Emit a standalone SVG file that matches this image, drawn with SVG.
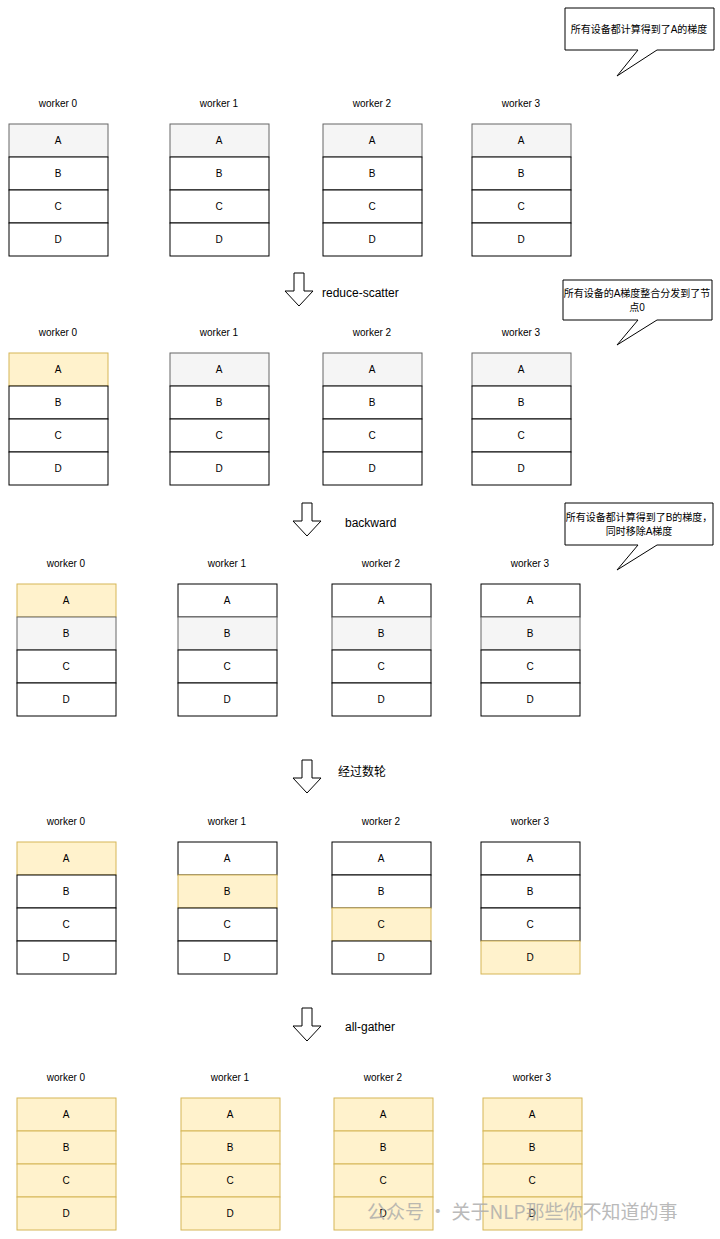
<svg xmlns="http://www.w3.org/2000/svg" width="720" height="1239" viewBox="0 0 720 1239">
<style>
text{font-family:"Liberation Sans",Arial,"Noto Sans CJK SC",sans-serif;font-size:10px;fill:#000;text-anchor:middle;dominant-baseline:central}
.w{fill:#fff;stroke:#000;stroke-width:1}
.g{fill:#f5f5f5;stroke:#666;stroke-width:1}
.y{fill:#fff2cc;stroke:#d6b656;stroke-width:1}
.arr{fill:#fff;stroke:#000;stroke-width:1}
.lbl{font-size:12px;text-anchor:start}
.call{fill:#fff;stroke:#000;stroke-width:1}
.wm{font-family:"Noto Sans CJK SC",sans-serif;font-size:19px;fill:#aaa;text-anchor:start;opacity:0.8}
</style>
<rect width="720" height="1239" fill="#fff"/>
<defs>
<g id="stk">
</g>
</defs>
<g id="connectors">
<path class="arr" d="M294,273h10v18h9l-14,15l-14,-15h9z"/>
<text class="lbl" x="322" y="293">reduce-scatter</text>
<path class="arr" d="M302,503h10v18h9l-14,15l-14,-15h9z"/>
<text class="lbl" x="345" y="523">backward</text>
<path class="arr" d="M302,760h10v18h9l-14,15l-14,-15h9z"/>
<text class="lbl" x="338" y="772">经过数轮</text>
<path class="arr" d="M302,1008h10v18h9l-14,15l-14,-15h9z"/>
<text class="lbl" x="345" y="1027">all-gather</text>
</g>
<g id="callout1">
<path class="call" d="M565,8H714V50H657L617,76L638,50H565Z"/>
<text x="639" y="29">所有设备都计算得到了A的梯度</text>
</g>
<g id="callout2">
<path class="call" d="M563,280H712V320H657L617,345L638,320H563Z"/>
<text x="637" y="293">所有设备的A梯度整合分发到了节</text>
<text x="637" y="307">点0</text>
</g>
<g id="callout3">
<path class="call" d="M565,503H713V545H657L617,570L638,545H565Z"/>
<text x="639" y="517">所有设备都计算得到了B的梯度，</text>
<text x="639" y="531">同时移除A梯度</text>
</g>
<!-- Section 1 -->
<g id="s1w0"><text x="58" y="103">worker 0</text><rect class="g" x="9" y="124" width="99" height="33"/><rect class="w" x="9" y="157" width="99" height="33"/><rect class="w" x="9" y="190" width="99" height="33"/><rect class="w" x="9" y="223" width="99" height="33"/><text x="58" y="140">A</text><text x="58" y="173">B</text><text x="58" y="206">C</text><text x="58" y="239">D</text></g>
<g id="s1w1"><text x="219" y="103">worker 1</text><rect class="g" x="170" y="124" width="99" height="33"/><rect class="w" x="170" y="157" width="99" height="33"/><rect class="w" x="170" y="190" width="99" height="33"/><rect class="w" x="170" y="223" width="99" height="33"/><text x="219" y="140">A</text><text x="219" y="173">B</text><text x="219" y="206">C</text><text x="219" y="239">D</text></g>
<g id="s1w2"><text x="372" y="103">worker 2</text><rect class="g" x="323" y="124" width="99" height="33"/><rect class="w" x="323" y="157" width="99" height="33"/><rect class="w" x="323" y="190" width="99" height="33"/><rect class="w" x="323" y="223" width="99" height="33"/><text x="372" y="140">A</text><text x="372" y="173">B</text><text x="372" y="206">C</text><text x="372" y="239">D</text></g>
<g id="s1w3"><text x="521" y="103">worker 3</text><rect class="g" x="472" y="124" width="99" height="33"/><rect class="w" x="472" y="157" width="99" height="33"/><rect class="w" x="472" y="190" width="99" height="33"/><rect class="w" x="472" y="223" width="99" height="33"/><text x="521" y="140">A</text><text x="521" y="173">B</text><text x="521" y="206">C</text><text x="521" y="239">D</text></g>
<!-- Section 2 -->
<g id="s2w0"><text x="58" y="332">worker 0</text><rect class="y" x="9" y="353" width="99" height="33"/><rect class="w" x="9" y="386" width="99" height="33"/><rect class="w" x="9" y="419" width="99" height="33"/><rect class="w" x="9" y="452" width="99" height="33"/><text x="58" y="369">A</text><text x="58" y="402">B</text><text x="58" y="435">C</text><text x="58" y="468">D</text></g>
<g id="s2w1"><text x="219" y="332">worker 1</text><rect class="g" x="170" y="353" width="99" height="33"/><rect class="w" x="170" y="386" width="99" height="33"/><rect class="w" x="170" y="419" width="99" height="33"/><rect class="w" x="170" y="452" width="99" height="33"/><text x="219" y="369">A</text><text x="219" y="402">B</text><text x="219" y="435">C</text><text x="219" y="468">D</text></g>
<g id="s2w2"><text x="372" y="332">worker 2</text><rect class="g" x="323" y="353" width="99" height="33"/><rect class="w" x="323" y="386" width="99" height="33"/><rect class="w" x="323" y="419" width="99" height="33"/><rect class="w" x="323" y="452" width="99" height="33"/><text x="372" y="369">A</text><text x="372" y="402">B</text><text x="372" y="435">C</text><text x="372" y="468">D</text></g>
<g id="s2w3"><text x="521" y="332">worker 3</text><rect class="g" x="472" y="353" width="99" height="33"/><rect class="w" x="472" y="386" width="99" height="33"/><rect class="w" x="472" y="419" width="99" height="33"/><rect class="w" x="472" y="452" width="99" height="33"/><text x="521" y="369">A</text><text x="521" y="402">B</text><text x="521" y="435">C</text><text x="521" y="468">D</text></g>
<!-- Section 3 -->
<g id="s3w0"><text x="66" y="563">worker 0</text><rect class="y" x="17" y="584" width="99" height="33"/><rect class="g" x="17" y="617" width="99" height="33"/><rect class="w" x="17" y="650" width="99" height="33"/><rect class="w" x="17" y="683" width="99" height="33"/><text x="66" y="600">A</text><text x="66" y="633">B</text><text x="66" y="666">C</text><text x="66" y="699">D</text></g>
<g id="s3w1"><text x="227" y="563">worker 1</text><rect class="w" x="178" y="584" width="99" height="33"/><rect class="g" x="178" y="617" width="99" height="33"/><rect class="w" x="178" y="650" width="99" height="33"/><rect class="w" x="178" y="683" width="99" height="33"/><text x="227" y="600">A</text><text x="227" y="633">B</text><text x="227" y="666">C</text><text x="227" y="699">D</text></g>
<g id="s3w2"><text x="381" y="563">worker 2</text><rect class="w" x="332" y="584" width="99" height="33"/><rect class="g" x="332" y="617" width="99" height="33"/><rect class="w" x="332" y="650" width="99" height="33"/><rect class="w" x="332" y="683" width="99" height="33"/><text x="381" y="600">A</text><text x="381" y="633">B</text><text x="381" y="666">C</text><text x="381" y="699">D</text></g>
<g id="s3w3"><text x="530" y="563">worker 3</text><rect class="w" x="481" y="584" width="99" height="33"/><rect class="g" x="481" y="617" width="99" height="33"/><rect class="w" x="481" y="650" width="99" height="33"/><rect class="w" x="481" y="683" width="99" height="33"/><text x="530" y="600">A</text><text x="530" y="633">B</text><text x="530" y="666">C</text><text x="530" y="699">D</text></g>
<!-- Section 4 -->
<g id="s4w0"><text x="66" y="821">worker 0</text><rect class="y" x="17" y="842" width="99" height="33"/><rect class="w" x="17" y="875" width="99" height="33"/><rect class="w" x="17" y="908" width="99" height="33"/><rect class="w" x="17" y="941" width="99" height="33"/><text x="66" y="858">A</text><text x="66" y="891">B</text><text x="66" y="924">C</text><text x="66" y="957">D</text></g>
<g id="s4w1"><text x="227" y="821">worker 1</text><rect class="w" x="178" y="842" width="99" height="33"/><rect class="y" x="178" y="875" width="99" height="33"/><rect class="w" x="178" y="908" width="99" height="33"/><rect class="w" x="178" y="941" width="99" height="33"/><text x="227" y="858">A</text><text x="227" y="891">B</text><text x="227" y="924">C</text><text x="227" y="957">D</text></g>
<g id="s4w2"><text x="381" y="821">worker 2</text><rect class="w" x="332" y="842" width="99" height="33"/><rect class="w" x="332" y="875" width="99" height="33"/><rect class="y" x="332" y="908" width="99" height="33"/><rect class="w" x="332" y="941" width="99" height="33"/><text x="381" y="858">A</text><text x="381" y="891">B</text><text x="381" y="924">C</text><text x="381" y="957">D</text></g>
<g id="s4w3"><text x="530" y="821">worker 3</text><rect class="w" x="481" y="842" width="99" height="33"/><rect class="w" x="481" y="875" width="99" height="33"/><rect class="w" x="481" y="908" width="99" height="33"/><rect class="y" x="481" y="941" width="99" height="33"/><text x="530" y="858">A</text><text x="530" y="891">B</text><text x="530" y="924">C</text><text x="530" y="957">D</text></g>
<!-- Section 5 -->
<g id="s5w0"><text x="66" y="1077">worker 0</text><rect class="y" x="17" y="1098" width="99" height="33"/><rect class="y" x="17" y="1131" width="99" height="33"/><rect class="y" x="17" y="1164" width="99" height="33"/><rect class="y" x="17" y="1197" width="99" height="33"/><text x="66" y="1114">A</text><text x="66" y="1147">B</text><text x="66" y="1180">C</text><text x="66" y="1213">D</text></g>
<g id="s5w1"><text x="230" y="1077">worker 1</text><rect class="y" x="181" y="1098" width="99" height="33"/><rect class="y" x="181" y="1131" width="99" height="33"/><rect class="y" x="181" y="1164" width="99" height="33"/><rect class="y" x="181" y="1197" width="99" height="33"/><text x="230" y="1114">A</text><text x="230" y="1147">B</text><text x="230" y="1180">C</text><text x="230" y="1213">D</text></g>
<g id="s5w2"><text x="383" y="1077">worker 2</text><rect class="y" x="334" y="1098" width="99" height="33"/><rect class="y" x="334" y="1131" width="99" height="33"/><rect class="y" x="334" y="1164" width="99" height="33"/><rect class="y" x="334" y="1197" width="99" height="33"/><text x="383" y="1114">A</text><text x="383" y="1147">B</text><text x="383" y="1180">C</text><text x="383" y="1213">D</text></g>
<g id="s5w3"><text x="532" y="1077">worker 3</text><rect class="y" x="483" y="1098" width="99" height="33"/><rect class="y" x="483" y="1131" width="99" height="33"/><rect class="y" x="483" y="1164" width="99" height="33"/><rect class="y" x="483" y="1197" width="99" height="33"/><text x="532" y="1114">A</text><text x="532" y="1147">B</text><text x="532" y="1180">C</text><text x="532" y="1213">D</text></g>
<g id="watermark"><text class="wm" x="367" y="1210">公众号 · 关于NLP那些你不知道的事</text></g>
</svg>
